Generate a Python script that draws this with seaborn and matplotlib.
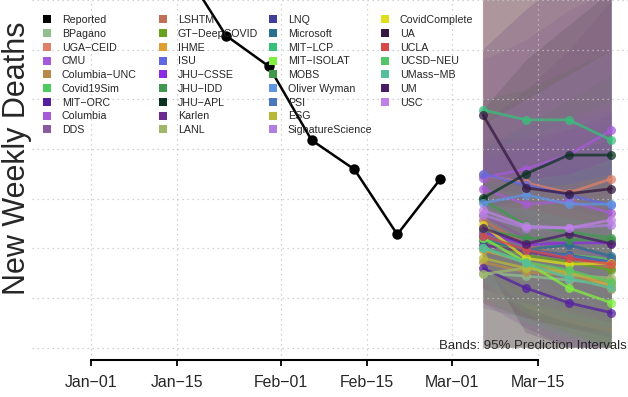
import numpy as np
import pandas as pd
import matplotlib
matplotlib.use("Agg")
import matplotlib.pyplot as plt
import matplotlib.dates as mdates
from matplotlib.lines import Line2D
import seaborn as sns

# ========= DATA ==========
rep_dates = pd.to_datetime(["2020-12-19", "2020-12-26", "2021-01-02", "2021-01-09", "2021-01-16",
                            "2021-01-23", "2021-01-30", "2021-02-06", "2021-02-13", "2021-02-20",
                            "2021-02-27"])
rep_deaths = [7600, 7900, 8200, 8400, 7650, 6290, 5670, 4180, 3590, 2280, 3390]

fc_dates = pd.to_datetime(["2021-03-06", "2021-03-13", "2021-03-20", "2021-03-27"])

models = ["BPagano", "UGA\u2212CEID", "CMU", "Columbia\u2212UNC", "Covid19Sim", "MIT\u2212ORC",
          "Columbia", "DDS", "LSHTM", "GT\u2212DeepCOVID", "IHME", "ISU", "JHU\u2212CSSE",
          "JHU\u2212IDD", "JHU\u2212APL", "Karlen", "LANL", "LNQ", "Microsoft", "MIT\u2212LCP",
          "MIT\u2212ISOLAT", "MOBS", "Oliver Wyman", "PSI", "ESG", "SignatureScience",
          "CovidComplete", "UA", "UCLA", "UCSD\u2212NEU", "UMass\u2212MB", "UM", "USC"]

colors = ["#8fbf8f", "#df7f67", "#a55ad8", "#b88a48", "#50c860", "#5520a0",
          "#a75ad5", "#8a5aa0", "#c07058", "#66a21e", "#e0a030", "#6068e0", "#8a2be2",
          "#3f9a4f", "#0b3320", "#6a2a8e", "#9fb86a", "#3f3f9a", "#2a7090", "#38c07a",
          "#80f040", "#40984a", "#5f94e0", "#4a78bc", "#b8b838", "#b07ee0",
          "#dede1a", "#34183f", "#d84848", "#55c667", "#55bf9c", "#4a1c68", "#c080e8"]

median = [
    [1500, 1440, 1360, 1280], [3480, 3320, 3120, 3400], [3420, 3600, 3880, 4380],
    [1720, 1520, 1460, 1180], [2210, 1970, 1860, 1780], [1600, 1200, 900, 700],
    [3200, 2890, 2950, 2710], [2670, 2210, 2070, 1800], [2570, 2070, 1800, 1600],
    [2170, 1860, 1720, 1560], [1970, 1720, 1520, 1240], [3500, 3280, 3070, 2870],
    [2330, 2070, 2110, 2110], [2970, 2470, 2330, 2210], [3010, 3500, 3880, 3880],
    [2070, 1930, 1800, 1720], [1480, 1600, 1460, 1400], [2250, 1970, 1860, 1720],
    [2170, 1970, 2070, 1840], [4790, 4590, 4590, 4180], [2210, 1720, 1200, 900],
    [2370, 2210, 2170, 2170], [2910, 3080, 2890, 2890], [2250, 1970, 1840, 1720],
    [1800, 1600, 1520, 1320], [2670, 2410, 2410, 2470], [2470, 1800, 1680, 1700],
    [4690, 3220, 3100, 3200], [2250, 1970, 1800, 1680], [2010, 1720, 1560, 1320],
    [2010, 1700, 1400, 1200], [2410, 2090, 2290, 2090], [2770, 2450, 2410, 2570]]

lower = [
    [0, 0, 0, 0], [2000, 1500, 1000, 800], [2500, 2300, 2200, 2300],
    [900, 600, 300, 0], [1500, 1100, 800, 600], [900, 400, 0, 0],
    [2000, 1500, 1200, 900], [0, 0, 0, 0], [900, 600, 400, 300],
    [1200, 800, 500, 300], [1300, 900, 600, 300], [2400, 1900, 1500, 1100],
    [1300, 900, 700, 500], [1500, 900, 600, 400], [1500, 1700, 1800, 1600],
    [800, 600, 400, 200], [0, 0, 0, 0], [0, 0, 0, 0],
    [1200, 900, 800, 500], [3200, 2700, 2400, 1800], [1300, 700, 300, 0],
    [1200, 800, 500, 300], [2000, 1900, 1600, 1400], [1500, 1100, 800, 600],
    [0, 0, 0, 0], [1600, 1200, 900, 700], [1600, 800, 500, 300],
    [1800, 300, 0, 0], [1200, 900, 700, 500], [1000, 500, 200, 0],
    [1300, 900, 600, 400], [0, 0, 0, 0], [1200, 800, 500, 300]]

upper = [
    [2300, 2500, 2700, 2900], [7500, 8000, 8500, 9000], [4500, 5200, 6000, 7000],
    [2800, 3000, 3300, 3500], [3000, 3000, 3200, 3400], [2500, 2400, 2300, 2300],
    [5800, 6200, 6800, 7200], [4200, 4200, 4400, 4500], [7600, 8000, 8500, 9000],
    [3300, 3300, 3300, 3300], [2700, 2700, 2600, 2500], [7200, 7500, 7800, 8000],
    [3800, 4000, 4400, 4700], [5000, 5200, 5600, 6000], [4800, 5800, 6500, 7200],
    [3000, 3100, 3200, 3300], [2400, 2900, 3000, 3100], [3300, 3400, 3600, 3700],
    [3300, 3500, 3900, 4200], [7200, 7500, 7500, 7500], [3200, 3100, 2800, 2600],
    [4000, 4500, 5000, 5500], [4000, 4500, 4600, 4800], [3100, 3100, 3200, 3200],
    [2800, 3000, 3200, 3300], [4000, 4200, 4600, 5000], [3500, 3200, 3300, 3500],
    [8000, 7500, 8000, 8500], [7200, 7800, 8500, 9000], [3300, 3400, 3500, 3800],
    [2900, 2800, 2600, 2500], [6000, 6800, 7500, 8500], [4500, 5000, 5500, 6000]]

tick_dates = pd.to_datetime(["2021-01-01", "2021-01-15", "2021-02-01",
                             "2021-02-15", "2021-03-01", "2021-03-15"])
tick_labels = ["Jan\u221201", "Jan\u221215", "Feb\u221201", "Feb\u221215", "Mar\u221201", "Mar\u221215"]

# ========= PLOT ==========
sns.set_theme(style="white")
plt.rcParams['font.family'] = ['Liberation Sans', 'DejaVu Sans']

W, H = 628, 397
fig = plt.figure(figsize=(W / 100, H / 100), dpi=100)
ax = fig.add_axes([32 / W, (H - 360) / H, (W - 32) / W, 360 / H])

jan1 = pd.Timestamp("2021-01-01")

# bands
for m, c, lo, hi in zip(models, colors, lower, upper):
    ax.fill_between(fc_dates, lo, hi, color=c, alpha=0.16, linewidth=0, zorder=1)

# forecast lines
df = pd.DataFrame({
    "date": np.tile(fc_dates, len(models)),
    "deaths": np.concatenate(median),
    "model": np.repeat(models, len(fc_dates)),
})
pal = dict(zip(models, colors))
sns.lineplot(data=df, x="date", y="deaths", hue="model", palette=pal, marker="o",
             markersize=6.5, markeredgewidth=0, linewidth=2, alpha=0.75,
             errorbar=None, legend=False, ax=ax, zorder=3)

# reported
sns.lineplot(x=rep_dates, y=rep_deaths, color="black", marker="o", markersize=7.5,
             markeredgewidth=0, linewidth=1.8, errorbar=None, ax=ax, zorder=4)

# axes styling
ax.set_xlim(jan1 - pd.Timedelta(days=9.69), jan1 + pd.Timedelta(days=87.7))
ax.set_ylim(-252, 7006)
ax.set_yticks(np.arange(0, 7001, 1000))
ax.set_yticklabels([])
ax.set_xticks(tick_dates)
ax.set_xticklabels(tick_labels, fontsize=11.4)
ax.tick_params(axis="y", length=0)
ax.tick_params(axis="x", direction="out", length=4.5, width=1.3, pad=6, color="black", bottom=True)
ax.set_axisbelow("line")
ax.grid(True, color="#c4c4c4", linestyle=(0, (1, 3)), linewidth=0.9)
for s in ["left", "right", "top"]:
    ax.spines[s].set_visible(False)
ax.spines["bottom"].set_bounds(mdates.date2num(tick_dates[0]), mdates.date2num(tick_dates[-1]))
ax.spines["bottom"].set_linewidth(1.5)
ax.spines["bottom"].set_color("black")
ax.set_xlabel("")
ax.set_ylabel("")

fig.text(17 / W, 1 - 158 / H, "New Weekly Deaths", rotation=90, ha="center", va="center",
         fontsize=22)
fig.text(627 / W, 1 - 346 / H, "Bands: 95% Prediction Intervals", ha="right", va="center",
         fontsize=9.5)

# legend in 4 columns, R-style
leg_names = ["Reported"] + models
leg_colors = ["black"] + colors
col_x = [42.7, 158.7, 268.7, 380.7]
for k in range(4):
    names = leg_names[k * 9:(k + 1) * 9]
    cols = leg_colors[k * 9:(k + 1) * 9]
    handles = [Line2D([], [], marker="s", linestyle="none", color=c, markersize=6, markeredgewidth=0)
               for c in cols]
    leg = fig.legend(handles, names, loc="upper left",
                     bbox_to_anchor=(col_x[k] / W, 1 - 15.2 / H),
                     frameon=False, fontsize=7.7, handlelength=0.8, handletextpad=0.97,
                     borderpad=0, borderaxespad=0, labelspacing=0.35)

fig.savefig("out.png", dpi=100)
